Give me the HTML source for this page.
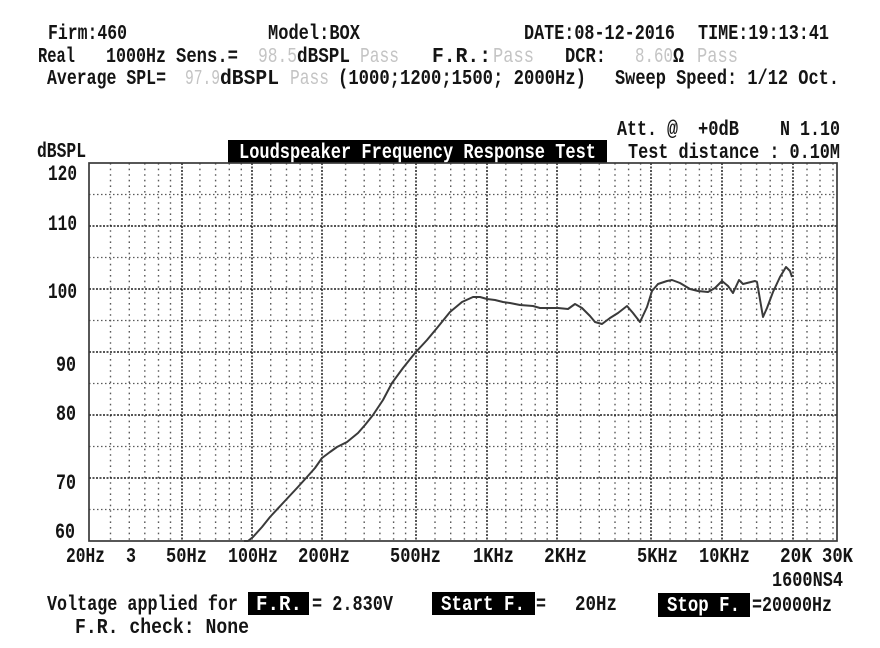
<!DOCTYPE html>
<html>
<head>
<meta charset="utf-8">
<style>
html,body{margin:0;padding:0;background:#fff;}
svg{display:block;}
text{font-family:"Liberation Mono","DejaVu Sans Mono",monospace;font-weight:bold;font-size:21px;fill:#141414;}
.g{fill:#c4c4c4;font-weight:normal;}
.w{fill:#fff;}
.y{font-size:22px;}
</style>
</head>
<body>
<svg width="880" height="648" viewBox="0 0 880 648" xmlns="http://www.w3.org/2000/svg">
<rect x="0" y="0" width="880" height="648" fill="#fff"/>

<!-- Header row 1 -->
<text x="48" y="39" textLength="79" lengthAdjust="spacingAndGlyphs">Firm:460</text>
<text x="268" y="39" textLength="92" lengthAdjust="spacingAndGlyphs">Model:BOX</text>
<text x="524" y="39" textLength="151" lengthAdjust="spacingAndGlyphs">DATE:08-12-2016</text>
<text x="698" y="39" textLength="131" lengthAdjust="spacingAndGlyphs">TIME:19:13:41</text>

<!-- Row 2 -->
<text x="38" y="62" textLength="37" lengthAdjust="spacingAndGlyphs">Real</text>
<text x="106" y="62" textLength="60" lengthAdjust="spacingAndGlyphs">1000Hz</text>
<text x="176" y="62" textLength="62" lengthAdjust="spacingAndGlyphs">Sens.=</text>
<text class="g" x="258" y="62" textLength="39" lengthAdjust="spacingAndGlyphs">98.5</text>
<text x="297" y="62" textLength="53" lengthAdjust="spacingAndGlyphs">dBSPL</text>
<text class="g" x="360" y="62" textLength="39" lengthAdjust="spacingAndGlyphs">Pass</text>
<text x="432" y="62" textLength="59" lengthAdjust="spacingAndGlyphs">F.R.:</text>
<text class="g" x="493" y="62" textLength="41" lengthAdjust="spacingAndGlyphs">Pass</text>
<text x="565" y="62" textLength="41" lengthAdjust="spacingAndGlyphs">DCR:</text>
<text class="g" x="635" y="62" textLength="38" lengthAdjust="spacingAndGlyphs">8.60</text>
<text x="673" y="62" textLength="11" lengthAdjust="spacingAndGlyphs">Ω</text>
<text class="g" x="697" y="62" textLength="41" lengthAdjust="spacingAndGlyphs">Pass</text>

<!-- Row 3 -->
<text x="47" y="84" textLength="119" lengthAdjust="spacingAndGlyphs">Average SPL=</text>
<text class="g" x="185" y="84" textLength="35" lengthAdjust="spacingAndGlyphs">97.9</text>
<text x="220" y="84" textLength="59" lengthAdjust="spacingAndGlyphs">dBSPL</text>
<text class="g" x="290" y="84" textLength="39" lengthAdjust="spacingAndGlyphs">Pass</text>
<text x="338" y="84" textLength="248" lengthAdjust="spacingAndGlyphs">(1000;1200;1500; 2000Hz)</text>
<text x="615" y="84" textLength="224" lengthAdjust="spacingAndGlyphs">Sweep Speed: 1/12 Oct.</text>

<!-- Chart header -->
<text x="617" y="135" textLength="40" lengthAdjust="spacingAndGlyphs">Att.</text>
<text x="667" y="135" textLength="11" lengthAdjust="spacingAndGlyphs">@</text>
<text x="698" y="135" textLength="41" lengthAdjust="spacingAndGlyphs">+0dB</text>
<text x="780" y="135" textLength="60" lengthAdjust="spacingAndGlyphs">N 1.10</text>
<text x="37" y="157" textLength="49" lengthAdjust="spacingAndGlyphs">dBSPL</text>
<rect x="228" y="140" width="379" height="23" fill="#000"/>
<text class="w" x="239" y="158" textLength="357" lengthAdjust="spacingAndGlyphs">Loudspeaker Frequency Response Test</text>
<text x="628" y="158" textLength="212" lengthAdjust="spacingAndGlyphs">Test distance : 0.10M</text>

<!-- Grid -->
<g id="grid">
  <!-- minor horizontal -->
  <g stroke="#5a5a5a" stroke-width="1.3" stroke-dasharray="1.5 2.5" fill="none">
    <line x1="89" y1="194.5" x2="837" y2="194.5"/>
    <line x1="89" y1="257.5" x2="837" y2="257.5"/>
    <line x1="89" y1="320.5" x2="837" y2="320.5"/>
    <line x1="89" y1="383.5" x2="837" y2="383.5"/>
    <line x1="89" y1="446.5" x2="837" y2="446.5"/>
    <line x1="89" y1="509.5" x2="837" y2="509.5"/>
  </g>
  <!-- minor vertical -->
  <g stroke="#5a5a5a" stroke-width="1.4" stroke-dasharray="1.6 4" fill="none">
    <line x1="110.5" y1="163" x2="110.5" y2="541"/>
    <line x1="129.3" y1="163" x2="129.3" y2="541"/>
    <line x1="144.8" y1="163" x2="144.8" y2="541"/>
    <line x1="158.5" y1="163" x2="158.5" y2="541"/>
    <line x1="170.5" y1="163" x2="170.5" y2="541"/>
    <line x1="199.9" y1="163" x2="199.9" y2="541"/>
    <line x1="215.6" y1="163" x2="215.6" y2="541"/>
    <line x1="229.3" y1="163" x2="229.3" y2="541"/>
    <line x1="241.3" y1="163" x2="241.3" y2="541"/>
    <line x1="270.7" y1="163" x2="270.7" y2="541"/>
    <line x1="286.5" y1="163" x2="286.5" y2="541"/>
    <line x1="300.1" y1="163" x2="300.1" y2="541"/>
    <line x1="312.1" y1="163" x2="312.1" y2="541"/>
    <line x1="345.6" y1="163" x2="345.6" y2="541"/>
    <line x1="364.2" y1="163" x2="364.2" y2="541"/>
    <line x1="379.9" y1="163" x2="379.9" y2="541"/>
    <line x1="393.6" y1="163" x2="393.6" y2="541"/>
    <line x1="405.6" y1="163" x2="405.6" y2="541"/>
    <line x1="435.0" y1="163" x2="435.0" y2="541"/>
    <line x1="450.7" y1="163" x2="450.7" y2="541"/>
    <line x1="464.4" y1="163" x2="464.4" y2="541"/>
    <line x1="476.4" y1="163" x2="476.4" y2="541"/>
    <line x1="505.8" y1="163" x2="505.8" y2="541"/>
    <line x1="521.5" y1="163" x2="521.5" y2="541"/>
    <line x1="535.2" y1="163" x2="535.2" y2="541"/>
    <line x1="547.2" y1="163" x2="547.2" y2="541"/>
    <line x1="580.6" y1="163" x2="580.6" y2="541"/>
    <line x1="599.3" y1="163" x2="599.3" y2="541"/>
    <line x1="615.0" y1="163" x2="615.0" y2="541"/>
    <line x1="628.6" y1="163" x2="628.6" y2="541"/>
    <line x1="640.6" y1="163" x2="640.6" y2="541"/>
    <line x1="670.1" y1="163" x2="670.1" y2="541"/>
    <line x1="685.8" y1="163" x2="685.8" y2="541"/>
    <line x1="699.4" y1="163" x2="699.4" y2="541"/>
    <line x1="711.4" y1="163" x2="711.4" y2="541"/>
    <line x1="740.9" y1="163" x2="740.9" y2="541"/>
    <line x1="756.6" y1="163" x2="756.6" y2="541"/>
    <line x1="770.2" y1="163" x2="770.2" y2="541"/>
    <line x1="782.2" y1="163" x2="782.2" y2="541"/>
    <line x1="807" y1="163" x2="807" y2="541"/>
    <line x1="820" y1="163" x2="820" y2="541"/>
    <line x1="833" y1="163" x2="833" y2="541"/>
  </g>
  <!-- major horizontal -->
  <g stroke="#1e1e1e" stroke-width="1.5" stroke-dasharray="2 1.5" fill="none">
    <line x1="89" y1="226" x2="837" y2="226"/>
    <line x1="89" y1="289" x2="837" y2="289"/>
    <line x1="89" y1="352" x2="837" y2="352"/>
    <line x1="89" y1="415" x2="837" y2="415"/>
    <line x1="89" y1="478" x2="837" y2="478"/>
  </g>
  <!-- major vertical -->
  <g stroke="#1e1e1e" stroke-width="1.5" stroke-dasharray="2 1.5" fill="none">
    <line x1="182" y1="163" x2="182" y2="541"/>
    <line x1="252" y1="163" x2="252" y2="541"/>
    <line x1="322" y1="163" x2="322" y2="541"/>
    <line x1="416" y1="163" x2="416" y2="541"/>
    <line x1="487" y1="163" x2="487" y2="541"/>
    <line x1="557" y1="163" x2="557" y2="541"/>
    <line x1="651" y1="163" x2="651" y2="541"/>
    <line x1="722" y1="163" x2="722" y2="541"/>
    <line x1="793" y1="163" x2="793" y2="541"/>
  </g>
</g>

<!-- Frame -->
<rect x="89" y="163" width="748" height="378" fill="none" stroke="#3a3a3a" stroke-width="1.7"/>

<!-- Curve -->
<polyline fill="none" stroke="#3a3a3a" stroke-width="2" stroke-linejoin="round"
points="244,541 248,541 253,537 262,527 270,517 283,503 297,488 307,477 315,468 322,458 330,452 337,447 347,442 358,433 365,425 373,415 383,400 392,383 403,368 415,353 427,340 437,328 450,312 462,302 473,297 480,297 487,299 495,300 503,302 510,303 520,305 533,306 540,308 558,308 568,309 575,304 582,308 590,316 595,322 602,324 610,318 618,313 627,306 633,313 640,322 647,307 652,291 658,284 667,281 672,280 680,283 690,289 698,291 708,292 715,288 722,281 728,286 733,293 739,280 743,284 755,281 757,282 763,317 767,308 773,292 780,277 786,267 790,271 792,277"/>

<!-- Y labels -->
<text class="y" x="48" y="180" textLength="29" lengthAdjust="spacingAndGlyphs">120</text>
<text class="y" x="48" y="230" textLength="29" lengthAdjust="spacingAndGlyphs">110</text>
<text class="y" x="48" y="298" textLength="29" lengthAdjust="spacingAndGlyphs">100</text>
<text class="y" x="56" y="371" textLength="20" lengthAdjust="spacingAndGlyphs">90</text>
<text class="y" x="56" y="420" textLength="20" lengthAdjust="spacingAndGlyphs">80</text>
<text class="y" x="56" y="489" textLength="20" lengthAdjust="spacingAndGlyphs">70</text>
<text class="y" x="55" y="538" textLength="20" lengthAdjust="spacingAndGlyphs">60</text>

<!-- X labels -->
<text x="66" y="562" textLength="39" lengthAdjust="spacingAndGlyphs">20Hz</text>
<text x="126" y="562" textLength="10" lengthAdjust="spacingAndGlyphs">3</text>
<text x="166" y="562" textLength="41" lengthAdjust="spacingAndGlyphs">50Hz</text>
<text x="228" y="562" textLength="50" lengthAdjust="spacingAndGlyphs">100Hz</text>
<text x="298" y="562" textLength="52" lengthAdjust="spacingAndGlyphs">200Hz</text>
<text x="390" y="562" textLength="51" lengthAdjust="spacingAndGlyphs">500Hz</text>
<text x="473" y="562" textLength="41" lengthAdjust="spacingAndGlyphs">1KHz</text>
<text x="544" y="562" textLength="43" lengthAdjust="spacingAndGlyphs">2KHz</text>
<text x="637" y="562" textLength="41" lengthAdjust="spacingAndGlyphs">5KHz</text>
<text x="699" y="562" textLength="51" lengthAdjust="spacingAndGlyphs">10KHz</text>
<text x="780" y="562" textLength="32" lengthAdjust="spacingAndGlyphs">20K</text>
<text x="822" y="562" textLength="31" lengthAdjust="spacingAndGlyphs">30K</text>
<text x="772" y="586" textLength="71" lengthAdjust="spacingAndGlyphs">1600NS4</text>

<!-- Bottom -->
<text x="47" y="610" textLength="191" lengthAdjust="spacingAndGlyphs">Voltage applied for</text>
<rect x="248" y="592" width="61" height="23" fill="#000"/>
<text class="w" x="256" y="610" textLength="46" lengthAdjust="spacingAndGlyphs">F.R.</text>
<text x="312" y="610" textLength="81" lengthAdjust="spacingAndGlyphs">= 2.830V</text>
<rect x="432" y="592" width="103" height="23" fill="#000"/>
<text class="w" x="441" y="610" textLength="84" lengthAdjust="spacingAndGlyphs">Start F.</text>
<text x="536" y="610" textLength="10" lengthAdjust="spacingAndGlyphs">=</text>
<text x="575" y="610" textLength="42" lengthAdjust="spacingAndGlyphs">20Hz</text>
<rect x="658" y="593" width="92" height="24" fill="#000"/>
<text class="w" x="667" y="611" textLength="73" lengthAdjust="spacingAndGlyphs">Stop F.</text>
<text x="752" y="611" textLength="80" lengthAdjust="spacingAndGlyphs">=20000Hz</text>
<text x="75" y="633" textLength="174" lengthAdjust="spacingAndGlyphs">F.R. check:  None</text>
</svg>
</body>
</html>
